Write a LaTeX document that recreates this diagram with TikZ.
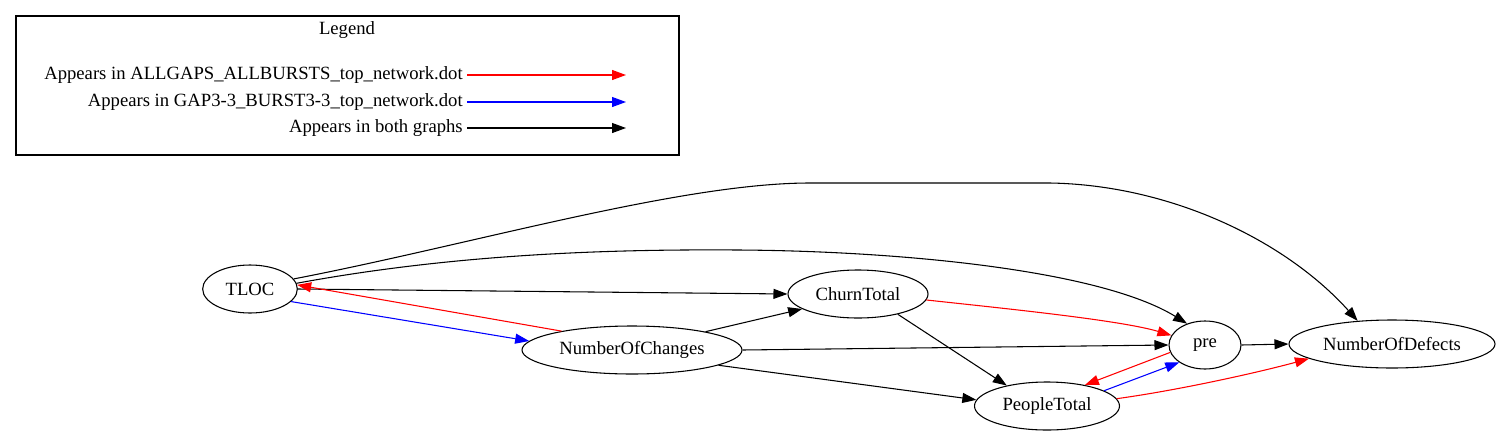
\documentclass[tikz,border=0pt]{standalone}
\usepackage{fontspec}
\setmainfont{Liberation Serif}
\usetikzlibrary{arrows.meta,shapes.geometric}
\begin{document}
\begin{tikzpicture}[x=0.75pt,y=-0.75pt,
  every node/.style={font=\fontsize{14}{16}\selectfont},
  nd/.style={draw,ellipse,line width=0.8pt,inner sep=0pt,minimum height=36pt},
  edge/.style={line width=0.8pt,-{Triangle[length=10.5pt,width=7.5pt]}},
  redge/.style={edge,red},
  bedge/.style={edge,blue},
  lbl/.style={anchor=east,inner sep=0pt}]
\useasboundingbox (0,0) rectangle (1500,436);
% legend
\draw[line width=0.8pt] (16,16) rectangle (679,155);
\node (legtitle) at (347,30) {Legend};
\node[lbl] (l1) at (463,75) {Appears in ALLGAPS\_ALLBURSTS\_top\_network.dot};
\node[lbl] (l2) at (463,102) {Appears in GAP3-3\_BURST3-3\_top\_network.dot};
\node[lbl] (l3) at (463,128) {Appears in both graphs};
\coordinate (e1) at (626,75);
\coordinate (e2) at (626,102);
\coordinate (e3) at (626,128);
\draw[redge] (l1.east) ++(4,0) -- (e1);
\draw[bedge] (l2.east) ++(4,0) -- (e2);
\draw[edge] (l3.east) ++(4,0) -- (e3);
% nodes
\node[nd,minimum width=71pt] (TLOC) at (250,289) {TLOC};
\node[nd,minimum width=165pt] (NOC) at (632,350) {NumberOfChanges};
\node[nd,minimum width=105pt] (CT) at (858,294) {ChurnTotal};
\node[nd,minimum width=54pt] (pre) at (1205,345) {pre};
\node[nd,minimum width=154.5pt] (NOD) at (1392,344) {NumberOfDefects};
\node[nd,minimum width=108.75pt] (PT) at (1047,406) {PeopleTotal};
% edges
\draw[edge] (TLOC.13) .. controls (470,245) and (680,183) .. (810,183)
  -- (1050,183) .. controls (1170,185) and (1285,240) .. (NOD.146);
\draw[edge] (TLOC.7) .. controls (450,255) and (600,249) .. (738,250)
  .. controls (900,251) and (1100,270) .. (pre.130);
\draw[edge] (TLOC.east) -- (CT.west);
\draw[redge] (NOC.165) -- (TLOC.5);
\draw[bedge] (TLOC.-17) -- (NOC.175);
\draw[edge] (NOC.14) -- (CT.195);
\draw[edge] (NOC.east) -- (pre.west);
\draw[edge] (NOC.-10) -- (PT.175);
\draw[redge] (CT.-5) .. controls (1000,308) and (1120,320) .. (pre.164);
\draw[edge] (CT.-27) -- (PT.153);
\draw[redge] (pre.192) -- (PT.29);
\draw[bedge] (PT.15) -- (pre.214);
\draw[edge] (pre.east) -- (NOD.west);
\draw[redge] (PT.6) .. controls (1180,390) and (1260,372) .. (NOD.190);
\end{tikzpicture}
\end{document}
